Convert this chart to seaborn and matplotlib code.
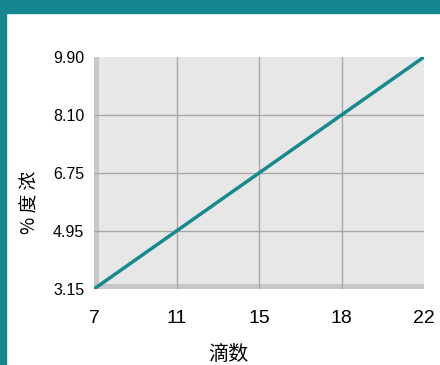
import numpy as np
import matplotlib
matplotlib.use("Agg")
import matplotlib.pyplot as plt
import matplotlib.patches as mpatches
import seaborn as sns

# data
drops = ["7", "11", "15", "18", "22"]
conc_labels = ["3.15", "4.95", "6.75", "8.10", "9.90"]
conc_values = [3.15, 4.95, 6.75, 8.10, 9.90]

TEAL = "#16868f"
LINE = "#17898f"

sns.set_style("white")
plt.rcParams['font.family'] = ['Liberation Sans', 'Noto Sans CJK SC', 'DejaVu Sans']
plt.rcParams['text.color'] = 'black'
plt.rcParams['axes.labelcolor'] = 'black'
plt.rcParams['xtick.color'] = 'black'
plt.rcParams['ytick.color'] = 'black'
CJK = ['Noto Sans CJK SC', 'DejaVu Sans']

fig = plt.figure(figsize=(4.4, 3.65), dpi=100)
W, H = 440, 365
L, R, T, B = 94, 424, 57, 289
ax = fig.add_axes([L / W, 1 - B / H, (R - L) / W, (B - T) / H])

# teal frame on top and left
fig.patches.append(mpatches.Rectangle((0, 1 - 13 / H), 1, 13 / H, transform=fig.transFigure,
                                      color=TEAL, zorder=0))
fig.patches.append(mpatches.Rectangle((0, 0), 6 / W, 1, transform=fig.transFigure,
                                      color=TEAL, zorder=0))

# y positions are evenly spaced categories in the reference
xpos = np.arange(len(drops))
ypos = [conc_labels.index(f"{v:.2f}") for v in conc_values]

ax.set_facecolor("#e7e7e7")
# wall and floor of the pseudo-3d plot
ax.add_patch(mpatches.Rectangle((0, 0), 5 / (R - L), 1, transform=ax.transAxes,
                                color="#c8c8c8", zorder=1, lw=0))
ax.add_patch(mpatches.Rectangle((0, 0), 1, 5 / (B - T), transform=ax.transAxes,
                                color="#c8c8c8", zorder=1, lw=0))

sns.lineplot(x=xpos, y=ypos, ax=ax, color=LINE, linewidth=2.5, zorder=3)

ax.set_xlim(0, len(drops) - 1)
ax.set_ylim(0, len(conc_labels) - 1)
ax.set_xticks(xpos)
ax.set_xticklabels(drops, fontsize=14, family='Liberation Sans')
ax.set_yticks(np.arange(len(conc_labels)))
ax.set_yticklabels(conc_labels, fontsize=11.5, family='Liberation Sans')
ax.tick_params(axis='x', length=0, pad=15)
ax.tick_params(axis='y', length=0, pad=7)

for v in range(1, len(drops) - 1):
    ax.axvline(v, color="#a8a8a8", lw=1, zorder=2)
for v in range(1, len(conc_labels) - 1):
    ax.axhline(v, color="#a8a8a8", lw=1, zorder=2)

for s in ax.spines.values():
    s.set_visible(False)

ax.set_xlabel("滴数", fontsize=14.5, family=CJK)
ax.xaxis.set_label_coords((228 - L) / (R - L), (B - 355) / (B - T))
ax.set_ylabel("% 度 浓", fontsize=13.5, rotation=90, family=CJK)
ax.yaxis.set_label_coords((30 - L) / (R - L), (B - 202) / (B - T))
ax.xaxis.label.set_va("center")
ax.yaxis.label.set_va("center")

fig.savefig("out.png", dpi=100)
